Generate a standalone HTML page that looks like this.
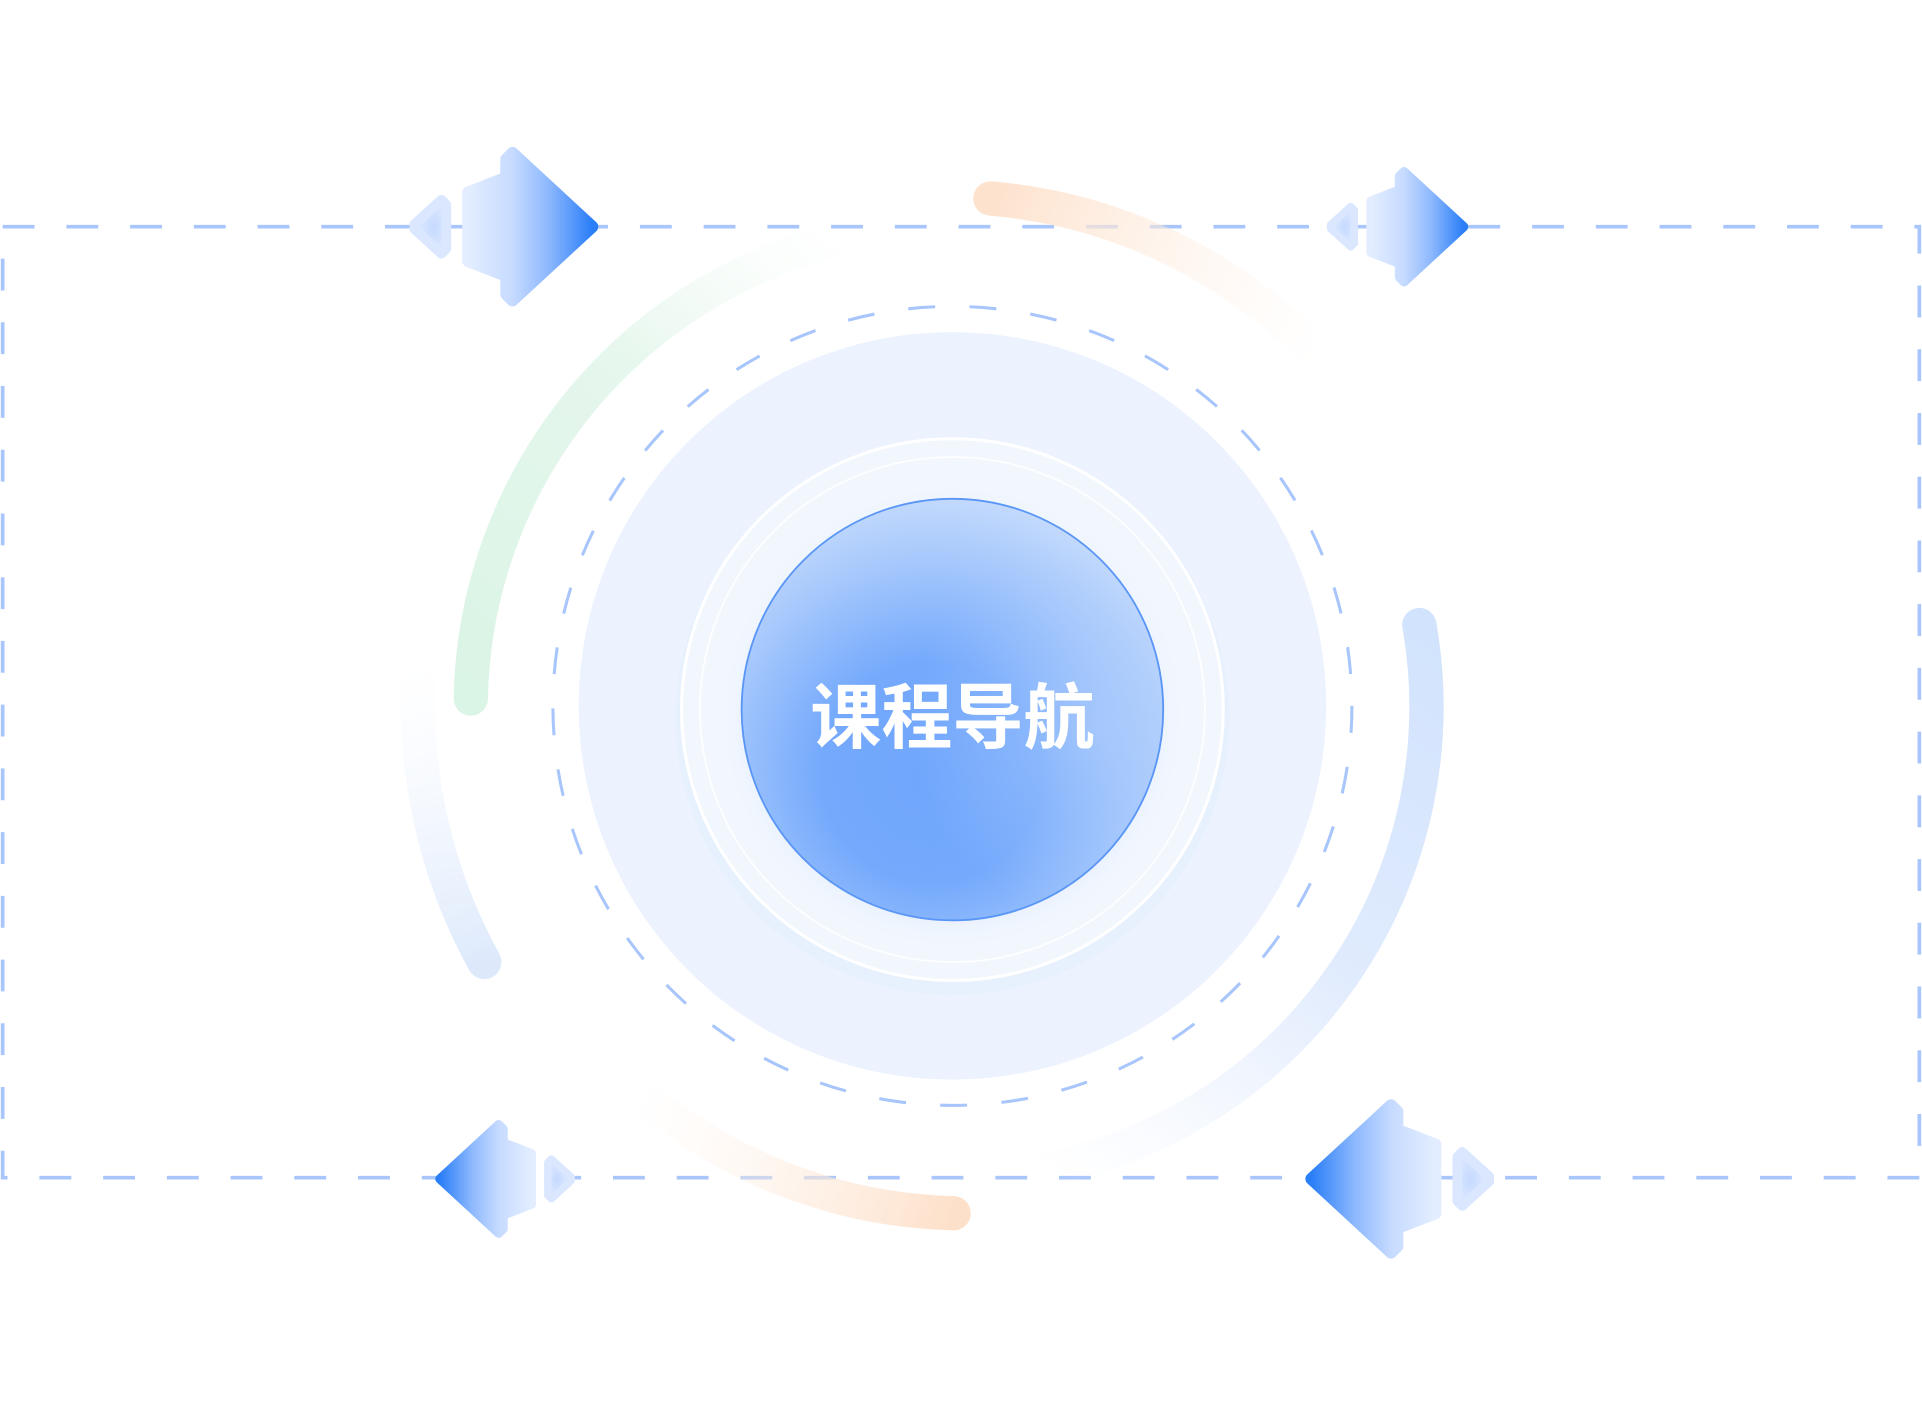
<!DOCTYPE html>
<html><head><meta charset="utf-8"><style>
html,body{margin:0;padding:0;background:#fff;}
svg{display:block;}
</style></head><body>
<svg width="1922" height="1413" viewBox="0 0 1568 1153" xmlns="http://www.w3.org/2000/svg">
<defs>
<linearGradient id="gGreen" gradientUnits="userSpaceOnUse" x1="384" y1="570" x2="690" y2="190">
<stop offset="0" stop-color="#daf4e5"/><stop offset="0.6" stop-color="#e6f7ed"/><stop offset="1" stop-color="#f4fbf7" stop-opacity="0"/></linearGradient>
<linearGradient id="gOrT" gradientUnits="userSpaceOnUse" x1="808" y1="162" x2="1075" y2="290">
<stop offset="0" stop-color="#fde2cd"/><stop offset="1" stop-color="#fff3ea" stop-opacity="0"/></linearGradient>
<linearGradient id="gBlueR" gradientUnits="userSpaceOnUse" x1="1158" y1="508" x2="850" y2="955">
<stop offset="0" stop-color="#d2e3fd"/><stop offset="0.5" stop-color="#e0ebfd"/><stop offset="1" stop-color="#eef4fe" stop-opacity="0"/></linearGradient>
<linearGradient id="gBlueL" gradientUnits="userSpaceOnUse" x1="395" y1="785" x2="342" y2="540">
<stop offset="0" stop-color="#dde9fb"/><stop offset="1" stop-color="#f3f8ff" stop-opacity="0"/></linearGradient>
<linearGradient id="gOrB" gradientUnits="userSpaceOnUse" x1="520" y1="890" x2="780" y2="990">
<stop offset="0" stop-color="#fff4ec" stop-opacity="0"/><stop offset="1" stop-color="#fde0c9"/></linearGradient>
<radialGradient id="gInner" cx="0.45" cy="0.65" r="0.65">
<stop offset="0" stop-color="#70a6fc"/><stop offset="0.4" stop-color="#74a9fc"/><stop offset="0.75" stop-color="#a3c6fc"/><stop offset="1" stop-color="#c2d9fc"/></radialGradient>
<radialGradient id="gInnerR" cx="0.85" cy="0.55" r="0.45">
<stop offset="0" stop-color="#b3d0fc" stop-opacity="0.55"/><stop offset="1" stop-color="#b3d0fc" stop-opacity="0"/></radialGradient>
<radialGradient id="gHalo" cx="0.5" cy="0.5" r="0.5">
<stop offset="0.7" stop-color="#9cc0fb" stop-opacity="0.5"/><stop offset="1" stop-color="#ecf3fe" stop-opacity="0"/></radialGradient>
<linearGradient id="gArrow" x1="0" y1="0" x2="1" y2="0">
<stop offset="0" stop-color="#e3edff"/><stop offset="0.35" stop-color="#c7dbff"/><stop offset="0.65" stop-color="#8db8fd"/><stop offset="1" stop-color="#2a7ef8"/></linearGradient>
<radialGradient id="gSmall" cx="0.6" cy="0.5" r="0.5">
<stop offset="0" stop-color="#c6daff"/><stop offset="1" stop-color="#dce8ff"/></radialGradient>
<g id="arrow">
<path d="M-5,0 L-70,-60 L-75,-55 L-75,-40 L-106,-28 L-106,28 L-75,40 L-75,55 L-70,60 Z" fill="url(#gArrow)" stroke="url(#gArrow)" stroke-width="10" stroke-linejoin="round"/>
<path d="M-124,-18 L-124,18 L-128,22 L-150,2 L-150,-2 L-128,-22 Z" fill="url(#gSmall)" stroke="#dae7ff" stroke-width="8" stroke-linejoin="round"/>
</g>
</defs>

<rect x="2" y="185" width="1564" height="776" fill="none" stroke="#a8c6fb" stroke-width="3" stroke-dasharray="26 26"/>

<path d="M384,570 A393,393 0 0 1 690,194" fill="none" stroke="url(#gGreen)" stroke-width="28" stroke-linecap="round"/>
<path d="M808,162 A416,416 0 0 1 1075,290" fill="none" stroke="url(#gOrT)" stroke-width="28" stroke-linecap="round"/>
<path d="M1158,510 A385,385 0 0 1 850,955" fill="none" stroke="url(#gBlueR)" stroke-width="28" stroke-linecap="round"/>
<path d="M395,785 A435,435 0 0 1 342,545" fill="none" stroke="url(#gBlueL)" stroke-width="28" stroke-linecap="round"/>
<path d="M520,890 A410,410 0 0 0 778,990" fill="none" stroke="url(#gOrB)" stroke-width="28" stroke-linecap="round"/>

<circle cx="777" cy="576" r="305" fill="#ecf3fe"/>
<circle cx="777" cy="576" r="326" fill="none" stroke="#a8c6fb" stroke-width="2.5" stroke-dasharray="22 28"/>
<circle cx="777" cy="586" r="226" fill="#e6effd" opacity="0.7"/>
<circle cx="777" cy="579" r="221" fill="#f2f7fe" stroke="#ffffff" stroke-width="2.5"/>
<circle cx="777" cy="579" r="206" fill="none" stroke="#ffffff" stroke-width="1.5" opacity="0.8"/>
<circle cx="777" cy="585" r="190" fill="url(#gHalo)"/>
<circle cx="777" cy="579" r="172" fill="url(#gInner)" stroke="#5a96f6" stroke-width="1.5"/>
<circle cx="777" cy="579" r="171" fill="url(#gInnerR)"/>
<text x="777" y="606" text-anchor="middle" font-family="Liberation Sans, 'Noto Sans CJK SC', sans-serif" font-weight="bold" font-size="58" fill="#ffffff">课程导航</text>

<use href="#arrow" transform="translate(488,185)"/>
<use href="#arrow" transform="translate(1198,185) scale(0.75)"/>
<use href="#arrow" transform="translate(355,962) scale(-0.74,0.74)"/>
<use href="#arrow" transform="translate(1065,962) scale(-1,1)"/>
</svg>
</body></html>
